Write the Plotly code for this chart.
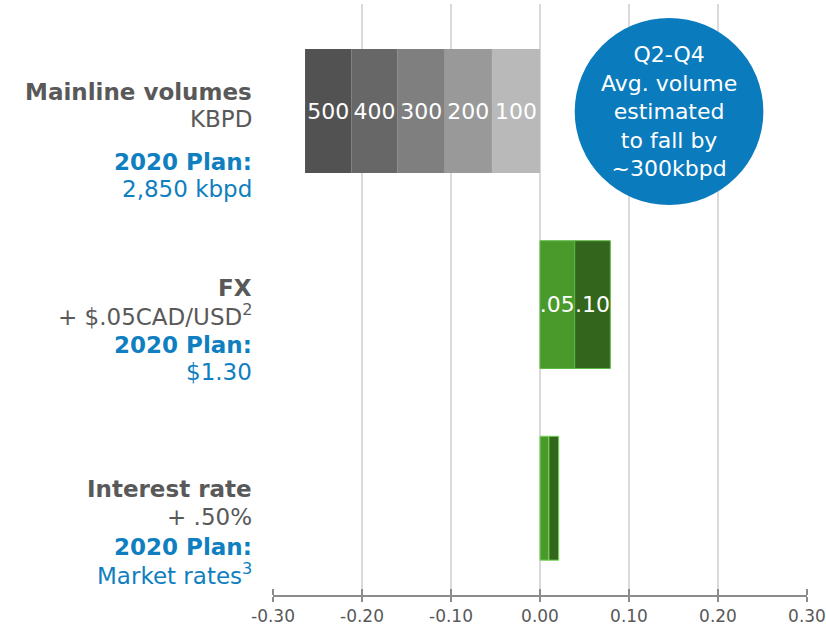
import plotly.graph_objects as go

# Sensitivity categories (top to bottom)
categories = ["Mainline volumes", "FX", "Interest rate"]

# Mainline volume decrements (per 100 kbpd step), stacked leftwards from zero
mainline_labels = ["100", "200", "300", "400", "500"]
mainline_steps = [-0.054, -0.053, -0.053, -0.052, -0.052]
mainline_colors = ["#b9b9b9", "#999999", "#7f7f7f", "#676767", "#525252"]

# FX increments
fx_labels = [".05", ".10"]
fx_steps = [0.039, 0.040]

# Interest rate increments
rate_steps = [0.010, 0.011]

green_colors = ["#4a9a2b", "#33661c"]

x_ticks = [-0.30, -0.20, -0.10, 0.00, 0.10, 0.20, 0.30]

GRAY_TXT = "#595959"
BLUE_TXT = "#0f7fc0"
FONT = "DejaVu Sans"

fig = go.Figure()

for lab, val, col in zip(mainline_labels, mainline_steps, mainline_colors):
    fig.add_trace(go.Bar(
        y=[categories[0]], x=[val], orientation="h",
        marker=dict(color=col, line=dict(width=0)),
        width=0.64,
        text=[lab], textposition="inside", insidetextanchor="middle",
        textangle=0, constraintext="none",
        textfont=dict(color="white", size=22, family=FONT),
        showlegend=False, hoverinfo="x",
    ))

for i, (lab, val) in enumerate(zip(fx_labels, fx_steps)):
    fig.add_trace(go.Bar(
        y=[categories[1]], x=[val], orientation="h",
        marker=dict(color=green_colors[i], line=dict(width=1, color="#5cb840")),
        width=0.66,
        text=[lab], textposition="inside", insidetextanchor="middle",
        textangle=0, constraintext="none",
        textfont=dict(color="white", size=22, family=FONT),
        showlegend=False, hoverinfo="x",
    ))

for i, val in enumerate(rate_steps):
    fig.add_trace(go.Bar(
        y=[categories[2]], x=[val], orientation="h",
        marker=dict(color=green_colors[i], line=dict(width=1, color="#77d65a")),
        width=0.64,
        showlegend=False, hoverinfo="x",
    ))

# Layout geometry (pixels)
W, H = 826, 630
ML, MR, MT, MB = 273, 19, 4, 35
plot_h = H - MT - MB
plot_w = W - ML - MR


def py(y_px):
    return (H - MB - y_px) / plot_h


def px(x_px):
    return (x_px - ML) / plot_w


fig.update_layout(
    width=W, height=H,
    margin=dict(l=ML, r=MR, t=MT, b=MB),
    paper_bgcolor="white", plot_bgcolor="white",
    barmode="relative",
    bargap=0.3,
    font=dict(family=FONT, color=GRAY_TXT),
    xaxis=dict(
        range=[-0.30, 0.30], tickvals=x_ticks,
        ticktext=[f"{v:.2f}" for v in x_ticks],
        showgrid=True, gridcolor="#d9d9d9", gridwidth=2,
        zeroline=False,
        showline=True, linecolor="#8c8c8c", linewidth=2,
        ticks="outside", ticklen=5, tickwidth=2, tickcolor="#8c8c8c",
        minor=dict(tickvals=x_ticks, ticks="inside", ticklen=6,
                   tickwidth=2, tickcolor="#8c8c8c", showgrid=False),
        tickfont=dict(size=17, color=GRAY_TXT, family=FONT),
        ticklabeloverflow="allow", automargin=False,
    ),
    yaxis=dict(
        type="category", categoryarray=categories,
        range=[2.5, -0.553],
        showticklabels=False, showgrid=False, zeroline=False, showline=False,
    ),
)

# Category labels: (text, bold, colour, centre y in px)
label_lines = [
    ("Mainline volumes", True, GRAY_TXT, 92),
    ("KBPD", False, GRAY_TXT, 119),
    ("2020 Plan:", True, BLUE_TXT, 162),
    ("2,850 kbpd", False, BLUE_TXT, 189),
    ("FX", True, GRAY_TXT, 288),
    ("+ $.05CAD/USD<sup>2</sup>", False, GRAY_TXT, 315),
    ("2020 Plan:", True, BLUE_TXT, 345),
    ("$1.30", False, BLUE_TXT, 372),
    ("Interest rate", True, GRAY_TXT, 489),
    ("+ .50%", False, GRAY_TXT, 517),
    ("2020 Plan:", True, BLUE_TXT, 547),
    ("Market rates<sup>3</sup>", False, BLUE_TXT, 574),
]
for txt, bold, col, yc in label_lines:
    fig.add_annotation(
        xref="paper", yref="paper", x=px(254), y=py(yc),
        xanchor="right", yanchor="middle", showarrow=False,
        text=f"<b>{txt}</b>" if bold else txt,
        font=dict(size=23, color=col, family=FONT),
    )

# Callout bubble
fig.add_shape(
    type="circle", xref="x", yref="paper",
    x0=0.039, x1=0.251, y0=py(205), y1=py(18),
    fillcolor="#0a7bbd", line=dict(width=0), layer="above",
)
fig.add_annotation(
    xref="x", yref="paper", x=0.145, y=py(111),
    xanchor="center", yanchor="middle", showarrow=False,
    text="Q2-Q4<br>Avg. volume<br>estimated<br>to fall by<br>~300kbpd",
    align="center",
    font=dict(size=22, color="white", family=FONT),
)

fig.write_html("out.html")
